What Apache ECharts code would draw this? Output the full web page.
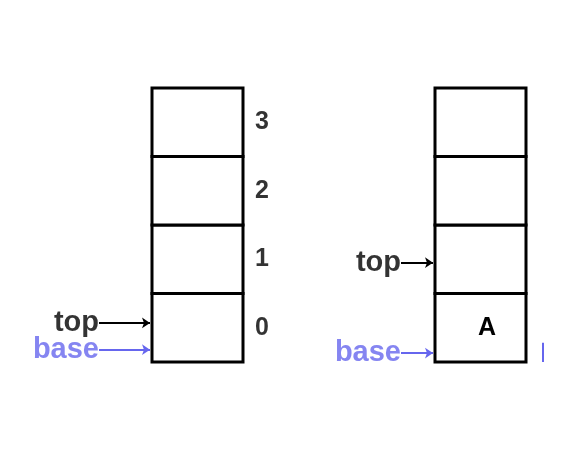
<!DOCTYPE html>
<html>
<head>
<meta charset="utf-8">
<script src="https://cdn.jsdelivr.net/npm/echarts@6/dist/echarts.min.js"></script>
<style>html,body{margin:0;background:#fff}#c{width:565px;height:461px}</style>
</head>
<body>
<div id="c"></div>
<script>
// slot indices, bottom to top
const slotLabels = ['0', '1', '2', '3'];
// contents of each stack, bottom to top
const leftStack = ['', '', '', ''];
const rightStack = ['A', '', '', ''];
// pointer heights in slot units (0 = bottom of slot 0)
const leftPointers = [{ name: 'top', level: 0.57 }, { name: 'base', level: 0.18 }];
const rightPointers = [{ name: 'top', level: 1.45 }, { name: 'base', level: 0.13 }];

const BLACK = '#000', BLUE = '#6666ee';
const FONT = '"Liberation Sans", Arial, sans-serif';
const stacks = [
    { x0: 152, x1: 243, cells: leftStack, pointers: leftPointers, ptrX: 150, textEnd: 99 },
    { x0: 435, x1: 526, cells: rightStack, pointers: rightPointers, ptrX: 433, textEnd: 401 }
];

const cellData = [];
stacks.forEach(s => s.cells.forEach((v, i) => cellData.push([s.x0, s.x1, i, v])));

const arrows = [];
const ptrText = [];
stacks.forEach(s => s.pointers.forEach(p => {
    const color = p.name === 'base' ? BLUE : BLACK;
    arrows.push({ coords: [[s.textEnd, p.level], [s.ptrX, p.level]], lineStyle: { color } });
    ptrText.push({ value: [s.textEnd, p.level], name: p.name, label: { color } });
}));

const chart = echarts.init(document.getElementById('c'));
chart.setOption({
    animation: false,
    grid: { left: 0, right: 0, top: 88, bottom: 99 },
    xAxis: { type: 'value', min: 0, max: 565, show: false },
    yAxis: { type: 'value', min: 0, max: 4, show: false },
    series: [
        {
            type: 'custom',
            clip: false,
            data: cellData,
            renderItem: (params, api) => {
                const p0 = api.coord([api.value(0), api.value(2) + 1]);
                const p1 = api.coord([api.value(1), api.value(2)]);
                return {
                    type: 'group',
                    children: [
                        { type: 'rect', shape: { x: p0[0], y: p0[1], width: p1[0] - p0[0], height: p1[1] - p0[1] },
                          style: { fill: '#fff', stroke: BLACK, lineWidth: 3 } },
                        { type: 'text', style: { text: cellData[params.dataIndex][3], x: p0[0] + 52, y: (p0[1] + p1[1]) / 2,
                          align: 'center', verticalAlign: 'middle', font: 'bold 25px ' + FONT, fill: BLACK } }
                    ]
                };
            }
        },
        {
            type: 'scatter',
            symbolSize: 0,
            data: slotLabels.map((t, i) => ({ value: [250, i + 0.5], name: t })),
            label: { show: true, position: 'right', formatter: '{b}', fontFamily: FONT, fontWeight: 'bold', fontSize: 25, color: BLACK }
        },
        {
            type: 'scatter',
            symbolSize: 0,
            data: ptrText,
            label: { show: true, position: 'left', distance: 0, formatter: '{b}', fontFamily: FONT, fontWeight: 'bold', fontSize: 29 }
        },
        {
            type: 'lines',
            coordinateSystem: 'cartesian2d',
            symbol: ['none', 'arrow'],
            symbolSize: 8,
            lineStyle: { width: 2, opacity: 1 },
            data: arrows
        },
        {
            type: 'lines',
            coordinateSystem: 'cartesian2d',
            symbol: 'none',
            lineStyle: { width: 2, color: BLUE, opacity: 1 },
            data: [{ coords: [[543, 0], [543, 0.28]] }]
        }
    ]
});
</script>
</body>
</html>
